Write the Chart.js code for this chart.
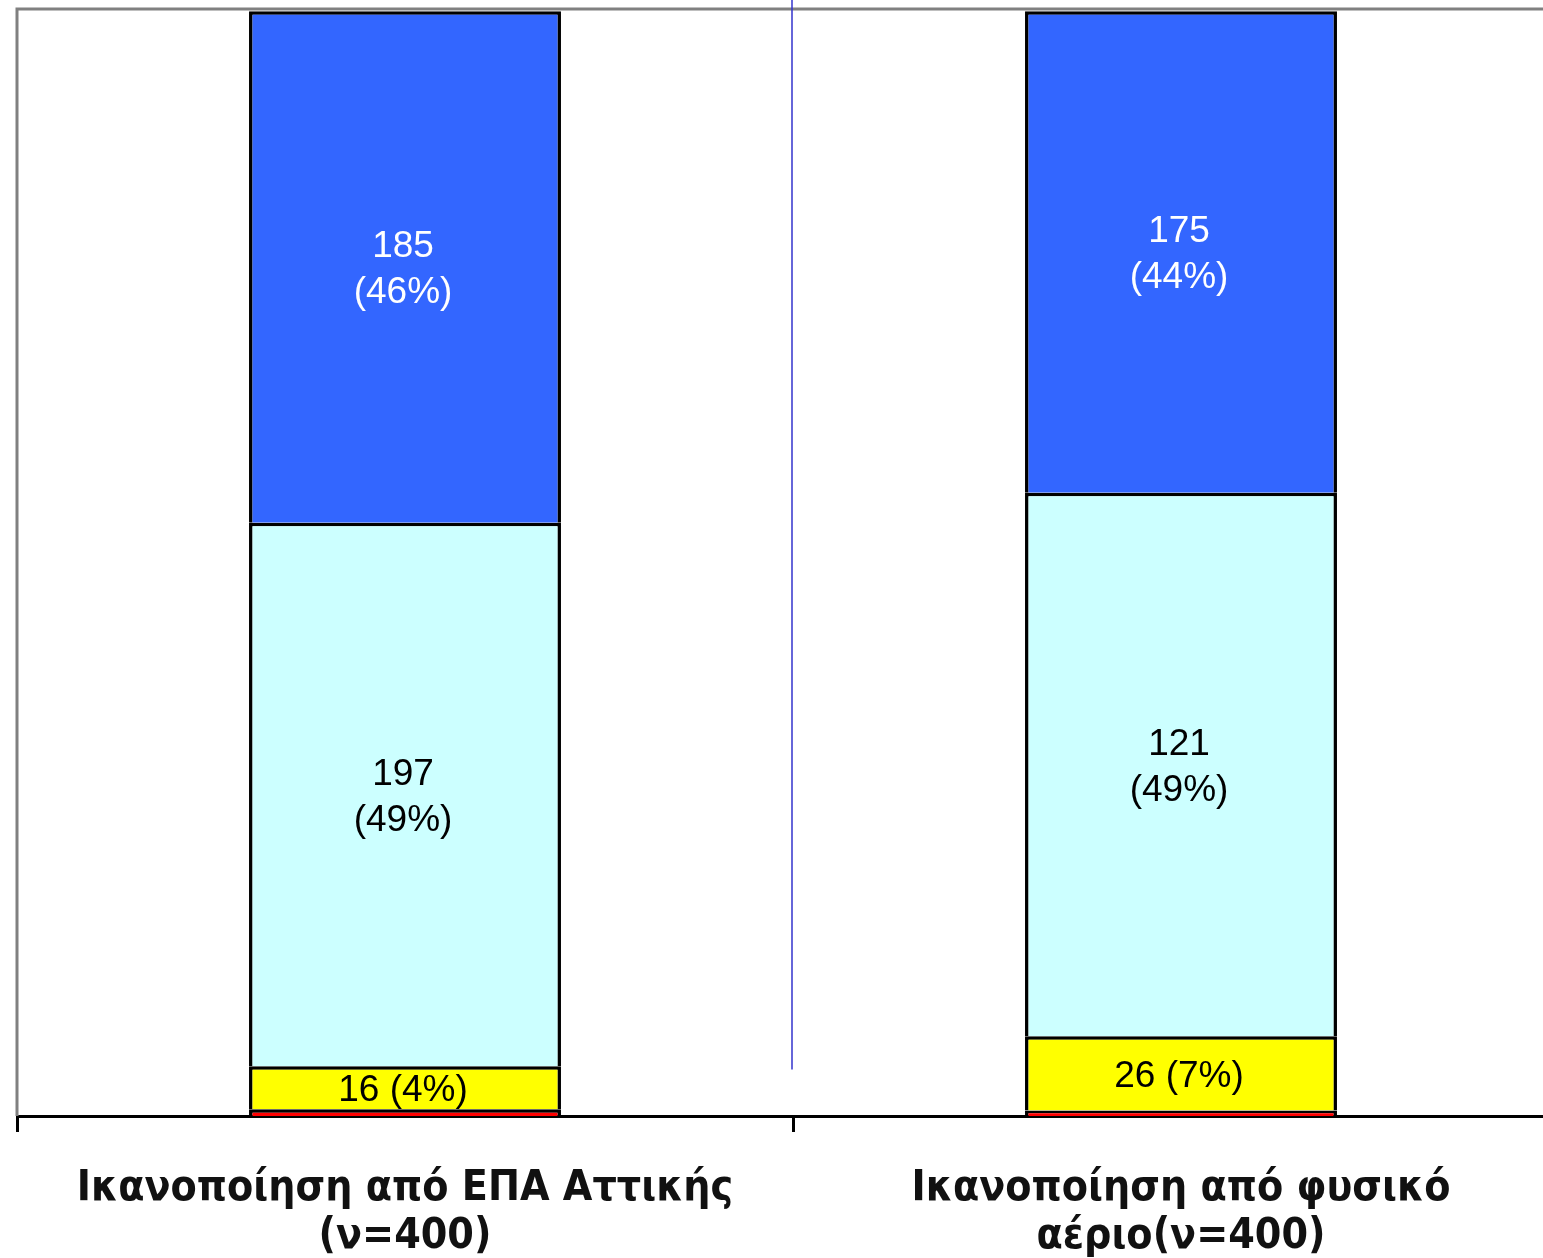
<!DOCTYPE html>
<html>
<head>
<meta charset="utf-8">
<script src="https://cdn.jsdelivr.net/npm/chart.js@4/dist/chart.umd.min.js"></script>
<style>
    html, body { margin: 0; padding: 0; background: #fff; overflow: hidden; }
    #wrap { width: 1600px; height: 1300px; }
</style>
</head>
<body>
<div id="wrap"><canvas id="chart" width="1600" height="1300"></canvas></div>
<script>
// categories (two-line tick labels)
var categories = [
    ["Ικανοποίηση από ΕΠΑ Αττικής", "(ν=400)"],
    ["Ικανοποίηση από φυσικό", "αέριο(ν=400)"]
];

// bar heights (share of the bar, %)
var redShare = [0.6, 0.5];
var yellowShare = [3.9, 6.7];
var cyanShare = [49.1, 49.1];
var blueShare = [46.2, 43.5];

// counts and percentages printed on the segments
var yellowCounts = [16, 26];
var yellowPct = [4, 7];
var cyanCounts = [197, 121];
var cyanPct = [49, 49];
var blueCounts = [185, 175];
var bluePct = [46, 44];

var labelFont = "'Liberation Sans', Arial, sans-serif";
var axisFont = "'DejaVu Sans Condensed', 'DejaVu Sans', sans-serif";

function segmentLabels(counts, pct, oneLine) {
    return counts.map(function (c, i) {
        return oneLine ? [c + " (" + pct[i] + "%)"] : [String(c), "(" + pct[i] + "%)"];
    });
}

var datasets = [
    {label: "red", data: redShare, backgroundColor: "#FF0000", segLabels: null},
    {label: "yellow", data: yellowShare, backgroundColor: "#FFFF00",
        segLabels: segmentLabels(yellowCounts, yellowPct, true), textColor: "#000"},
    {label: "cyan", data: cyanShare, backgroundColor: "#CCFFFF",
        segLabels: segmentLabels(cyanCounts, cyanPct, false), textColor: "#000"},
    {label: "blue", data: blueShare, backgroundColor: "#3366FF",
        segLabels: segmentLabels(blueCounts, bluePct, false), textColor: "#fff"}
].map(function (ds) {
    ds.borderColor = "#000";
    ds.borderWidth = 3.5;
    ds.barPercentage = 0.402;
    ds.categoryPercentage = 1;
    return ds;
});

// frame lines + separator drawn behind the bars
var framePlugin = {
    id: "frame",
    beforeDatasetsDraw: function (chart) {
        var ctx = chart.ctx, a = chart.chartArea;
        var x = chart.scales.x, y = chart.scales.y;
        ctx.save();
        ctx.strokeStyle = "#808080";
        ctx.lineWidth = 3;
        ctx.beginPath();
        ctx.moveTo(a.left, a.bottom);
        ctx.lineTo(a.left, a.top);
        ctx.lineTo(chart.width, a.top);
        ctx.stroke();
        // thin blue divider between the two bars
        var mid = (x.getPixelForTick(0) + x.getPixelForTick(1)) / 2 - 1;
        ctx.strokeStyle = "#3333CC";
        ctx.lineWidth = 1.5;
        ctx.beginPath();
        ctx.moveTo(mid, 0);
        ctx.lineTo(mid, y.getPixelForValue(4.2));
        ctx.stroke();
        ctx.restore();
    }
};

// count / percent text in the middle of each segment
var segLabelPlugin = {
    id: "segLabels",
    afterDatasetsDraw: function (chart) {
        var ctx = chart.ctx;
        ctx.save();
        ctx.textAlign = "center";
        ctx.textBaseline = "middle";
        ctx.font = "37px " + labelFont;
        chart.data.datasets.forEach(function (ds, di) {
            if (!ds.segLabels) return;
            chart.getDatasetMeta(di).data.forEach(function (bar, i) {
                var lines = ds.segLabels[i];
                var cy = (bar.y + bar.base) / 2 + 3;
                var lh = 46;
                ctx.fillStyle = ds.textColor;
                lines.forEach(function (t, k) {
                    ctx.fillText(t, bar.x - 2, cy + (k - (lines.length - 1) / 2) * lh);
                });
            });
        });
        ctx.restore();
    }
};

new Chart(document.getElementById("chart"), {
    type: "bar",
    data: {labels: categories, datasets: datasets},
    options: {
        responsive: false,
        animation: false,
        layout: {padding: {left: 17, top: 9, right: 31, bottom: 0}},
        plugins: {legend: {display: false}, tooltip: {enabled: false}},
        scales: {
            x: {
                stacked: true,
                grid: {offset: true, drawOnChartArea: false, drawTicks: true, tickLength: 16, color: "#000", lineWidth: 3},
                border: {display: true, color: "#000", width: 3},
                ticks: {
                    color: "#111",
                    font: {family: axisFont, size: 42.5, weight: "bold", lineHeight: 1.13},
                    padding: 33,
                    maxRotation: 0,
                    autoSkip: false
                },
                afterFit: function (scale) { scale.height = 184; }
            },
            y: {
                stacked: true,
                display: false,
                min: 0,
                max: 100
            }
        }
    },
    plugins: [framePlugin, segLabelPlugin]
});
</script>
</body>
</html>
